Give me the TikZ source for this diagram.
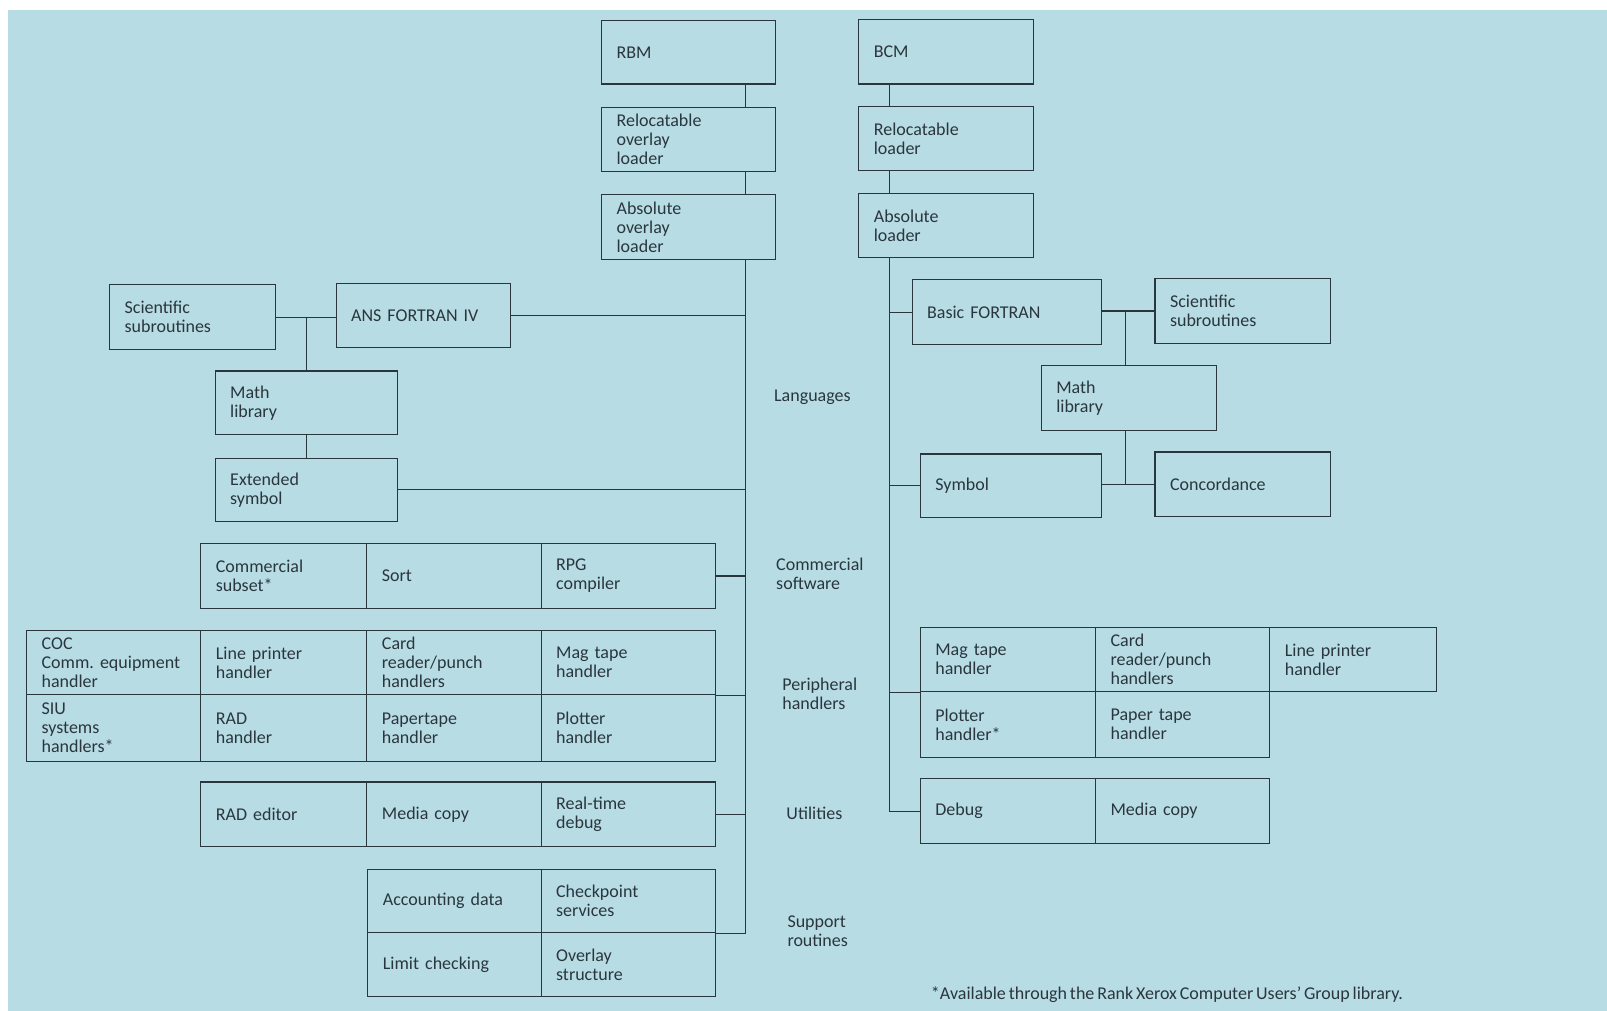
\documentclass[tikz,border=0pt]{standalone}
\usepackage{fontspec}
\setmainfont{Carlito}[WordSpace=0.7]
\definecolor{bgblue}{RGB}{184,220,228}
\definecolor{ink}{RGB}{42,54,62}
\def\U{0.51244}
\tikzset{
  cellbox/.style={draw=ink, line width=0.55pt, fill=bgblue, inner xsep=7.5pt, inner ysep=0pt,
    align=left, text=ink, font=\fontsize{9}{9.5}\selectfont\frenchspacing, anchor=center},
  conn/.style={draw=ink, line width=0.55pt},
  lbl/.style={anchor=west, align=left, text=ink, font=\fontsize{9}{9.5}\selectfont\frenchspacing, inner sep=0pt}
}
\newcommand\mkcell[7][]{%
  \pgfmathsetmacro\cw{(#5-#3)*\U}%
  \pgfmathsetmacro\chh{(#6-#4)*\U}%
  \pgfmathsetmacro\tw{\cw-15}%
  \node[cellbox, minimum width=\cw pt, minimum height=\chh pt, text width=\tw pt, #1] (#2) at ({(#3+#5)/2},{(#4+#6)/2}) {#7};}
\begin{document}
\begin{tikzpicture}[x=0.51244pt, y=-0.51244pt]
\fill[white] (0,0) rectangle (1568,986);
\fill[bgblue] (8,10) rectangle (1568,986);
\useasboundingbox (0,0) rectangle (1568,986);
% left column
\mkcell{rbm}{587}{20}{757}{82}{RBM}
\mkcell{rol}{587}{105}{757}{167}{Relocatable\\overlay\\loader}
\mkcell{aol}{587}{190}{757}{253}{Absolute\\overlay\\loader}
\mkcell{sciL}{107}{278}{269}{341}{Scientific\\subroutines}
\mkcell{ans}{328}{277}{498}{339}{ANS FORTRAN IV}
\mkcell{mathL}{210}{362}{388}{424}{Math\\library}
\mkcell{ext}{210}{447}{388}{509}{Extended\\symbol}
\mkcell{csub}{196}{530}{358}{594}{Commercial\\subset*}
\mkcell{sort}{358}{530}{528}{594}{Sort}
\mkcell{rpg}{528}{530}{698}{594}{RPG\\compiler}
\mkcell{coc}{26}{615}{196}{678}{COC\\Comm. equipment\\handler}
\mkcell{lpL}{196}{615}{358}{678}{Line printer\\handler}
\mkcell{cdL}{358}{615}{528}{678}{Card\\reader/punch\\handlers}
\mkcell{mgL}{528}{615}{698}{678}{Mag tape\\handler}
\mkcell{siu}{26}{678}{196}{743}{SIU\\systems\\handlers*}
\mkcell{rad}{196}{678}{358}{743}{RAD\\handler}
\mkcell{ppL}{358}{678}{528}{743}{Papertape\\handler}
\mkcell{plL}{528}{678}{698}{743}{Plotter\\handler}
\mkcell{rade}{196}{763}{358}{826}{RAD editor}
\mkcell{mcL}{358}{763}{528}{826}{Media copy}
\mkcell{rtd}{528}{763}{698}{826}{Real-time\\debug}
\mkcell{acc}{359}{848}{528}{910}{Accounting data}
\mkcell{chk}{528}{848}{698}{910}{Checkpoint\\services}
\mkcell{lim}{359}{910}{528}{972}{Limit checking}
\mkcell{ovl}{528}{910}{698}{972}{Overlay\\structure}
% right column
\mkcell{bcm}{838}{19}{1008}{82}{BCM}
\mkcell{rl}{838}{104}{1008}{166}{Relocatable\\loader}
\mkcell{al}{838}{189}{1008}{251}{Absolute\\loader}
\mkcell{bf}{890}{273}{1075}{336}{Basic FORTRAN}
\mkcell{sciR}{1127}{272}{1298}{335}{Scientific\\subroutines}
\mkcell{mathR}{1016}{357}{1187}{420}{Math\\library}
\mkcell{sym}{898}{443}{1075}{505}{Symbol}
\mkcell{conc}{1127}{441}{1298}{504}{Concordance}
\mkcell{mgR}{898}{612}{1069}{675}{Mag tape\\handler}
\mkcell{cdR}{1069}{612}{1239}{675}{Card\\reader/punch\\handlers}
\mkcell{lpR}{1239}{612}{1402}{675}{Line printer\\handler}
\mkcell{plR}{898}{675}{1069}{739}{Plotter\\handler*}
\mkcell{ptR}{1069}{675}{1239}{739}{Paper tape\\handler}
\mkcell{dbg}{898}{760}{1069}{823}{Debug}
\mkcell{mcR}{1069}{760}{1239}{823}{Media copy}
% labels
\node[lbl] (lang) at (755,388) {Languages};
\node[lbl] (coms) at (757,560) {Commercial\\software};
\node[lbl] (perh) at (763,677) {Peripheral\\handlers};
\node[lbl] (util) at (767,794) {Utilities};
\node[lbl] (supr) at (768,909) {Support\\routines};
\node[lbl] (foot) at (908,971) {*Available through the Rank Xerox Computer Users' Group library.};
% spines
\coordinate (sL) at (727,0);
\coordinate (sR) at (868,0);
\coordinate (jR) at (1098,0);
\draw[conn] (rbm.south -| sL) -- (rol.north -| sL);
\draw[conn] (rol.south -| sL) -- (aol.north -| sL);
\draw[conn] (aol.south -| sL) -- (sL |- chk.south east) -- (chk.south east);
\draw[conn] (ans.east) -- (ans.east -| sL);
\draw[conn] (sciL.east) -- (sciL.east -| ans.west);
\draw[conn] (mathL.north) -- (mathL.north |- sciL.east);
\draw[conn] (mathL.south) -- (ext.north);
\draw[conn] (ext.east) -- (ext.east -| sL);
\draw[conn] (rpg.east) -- (rpg.east -| sL);
\draw[conn] (mgL.south east) -- (mgL.south east -| sL);
\draw[conn] (rtd.east) -- (rtd.east -| sL);
\draw[conn] (bcm.south -| sR) -- (rl.north -| sR);
\draw[conn] (rl.south -| sR) -- (al.north -| sR);
\draw[conn] (al.south -| sR) -- (sR |- dbg.west) -- (dbg.west);
\draw[conn] (bf.west) -- (bf.west -| sR);
\draw[conn] (sym.west) -- (sym.west -| sR);
\draw[conn] (mgR.south west) -- (mgR.south west -| sR);
\draw[conn] (bf.east |- sciR.west) -- (sciR.west);
\draw[conn] (jR |- sciR.west) -- (jR |- mathR.north);
\draw[conn] (jR |- mathR.south) -- (jR |- conc.west);
\draw[conn] (sym.east |- conc.west) -- (conc.west);
\end{tikzpicture}
\end{document}
